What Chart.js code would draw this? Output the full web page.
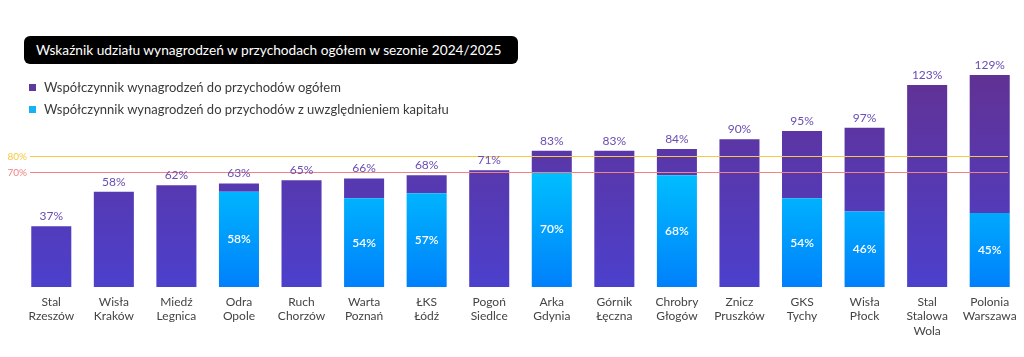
<!DOCTYPE html>
<html><head><meta charset="utf-8">
<script src="https://cdn.jsdelivr.net/npm/chart.js@4"></script>
<style>
html,body{margin:0;padding:0;background:#fff;}
#wrap{position:relative;width:1024px;height:357px;overflow:hidden;font-family:Lato,"Open Sans",sans-serif;}
#c{position:absolute;left:0;top:0;}
#title{position:absolute;left:24px;top:36px;width:494px;height:28px;background:#000;border-radius:6px;color:#fff;font-size:13.7px;line-height:28px;padding-left:12px;box-sizing:border-box;white-space:nowrap;}
.leg{position:absolute;left:29px;height:14px;font-size:13px;color:#3a3a3a;white-space:nowrap;line-height:14px;}
.leg i{display:inline-block;width:7px;height:7px;margin-right:8px;vertical-align:1px;}
</style></head>
<body>
<div id="wrap">
<canvas id="c" width="1024" height="357"></canvas>
<div id="title"></div>
<div id="legend"></div>
</div>
<script>
const chartTitle = "Wskaźnik udziału wynagrodzeń w przychodach ogółem w sezonie 2024/2025";
const categories = [
  ["Stal","Rzeszów"],["Wisła","Kraków"],["Miedź","Legnica"],["Odra","Opole"],["Ruch","Chorzów"],
  ["Warta","Poznań"],["ŁKS","Łódź"],["Pogoń","Siedlce"],["Arka","Gdynia"],["Górnik","Łęczna"],
  ["Chrobry","Głogów"],["Znicz","Pruszków"],["GKS","Tychy"],["Wisła","Płock"],["Stal","Stalowa","Wola"],["Polonia","Warszawa"]
];
const totalRatio   = [37,58,62,63,65,66,68,71,83,83,84,90,95,97,123,129];
const capitalRatio = [null,null,null,58,null,54,57,null,70,null,68,null,54,46,null,45];
const seriesNames = ["Współczynnik wynagrodzeń do przychodów ogółem","Współczynnik wynagrodzeń do przychodów z uwzględnieniem kapitału"];
const seriesColors = ["#5d3a9b","#16b2f4"];
const thresholds = [80,70];
const thresholdLabels = ["80%","70%"];
const thresholdColors = ["#f7c843","#f38282"];

document.getElementById('title').textContent = chartTitle;
const legEl = document.getElementById('legend');
seriesNames.forEach((n,i)=>{
  const d=document.createElement('div');d.className='leg';d.style.top=(80+i*22)+'px';
  d.innerHTML='<i style="background:'+seriesColors[i]+'"></i>';
  d.appendChild(document.createTextNode(n));legEl.appendChild(d);
});

const remainder = totalRatio.map((t,i)=> t - (capitalRatio[i]||0));

function purpleGrad(ctx){
  const ca = ctx.chart.chartArea; if(!ca) return seriesColors[0];
  const g = ctx.chart.ctx.createLinearGradient(0,ca.top,0,ca.bottom);
  g.addColorStop(0,'#63308f'); g.addColorStop(1,'#4c40cc'); return g;
}
function blueGrad(ctx){
  const ca = ctx.chart.chartArea; if(!ca) return seriesColors[1];
  const g = ctx.chart.ctx.createLinearGradient(0,ca.top,0,ca.bottom);
  g.addColorStop(0,'#00d4ff'); g.addColorStop(0.48,'#00c2ff'); g.addColorStop(1,'#0080fb'); return g;
}

const labelsPlugin = {
  id:'labelsPlugin',
  afterDatasetsDraw(chart){
    const c=chart.ctx, y=chart.scales.y, ca=chart.chartArea;
    thresholds.forEach((v,i)=>{
      const py=Math.round(y.getPixelForValue(v))+0.5;
      c.save();c.strokeStyle=thresholdColors[i];c.lineWidth=1.2;
      c.beginPath();c.moveTo(ca.left+10,py);c.lineTo(ca.right-13,py);c.stroke();
      c.fillStyle=thresholdColors[i];c.font='10px Lato';c.textAlign='right';c.textBaseline='middle';
      c.fillText(thresholdLabels[i],ca.left+7,py);c.restore();
    });
    const mB=chart.getDatasetMeta(0), mP=chart.getDatasetMeta(1);
    c.save();c.textAlign='center';
    totalRatio.forEach((t,i)=>{
      const bar=mP.data[i];
      c.fillStyle='#6a4db3';c.font='12px Lato';c.textBaseline='bottom';
      c.fillText(t+'%',bar.x,bar.y-4);
      if(capitalRatio[i]!=null){
        const b=mB.data[i];
        c.fillStyle='#ffffff';c.font='600 12px Lato';c.textBaseline='middle';
        c.fillText(capitalRatio[i]+'%',b.x,(b.y+b.base)/2);
      }
    });
    c.restore();
  }
};

new Chart(document.getElementById('c'),{
  type:'bar',
  data:{
    labels:categories,
    datasets:[
      {label:seriesNames[1],data:capitalRatio,backgroundColor:blueGrad,barPercentage:0.64,categoryPercentage:1},
      {label:seriesNames[0],data:remainder,backgroundColor:purpleGrad,barPercentage:0.64,categoryPercentage:1}
    ]
  },
  options:{
    responsive:false,animation:false,
    layout:{padding:{left:20,right:3,top:57,bottom:0}},
    plugins:{legend:{display:false},tooltip:{enabled:false},title:{display:false}},
    scales:{
      x:{stacked:true,grid:{display:false},border:{display:false},
         ticks:{color:'#444',font:{family:'Lato',size:12},padding:0,maxRotation:0,autoSkip:false},
         afterFit(s){s.height=70;}},
      y:{stacked:true,display:false,min:0,max:140}
    }
  },
  plugins:[labelsPlugin]
});
</script>
</body></html>
